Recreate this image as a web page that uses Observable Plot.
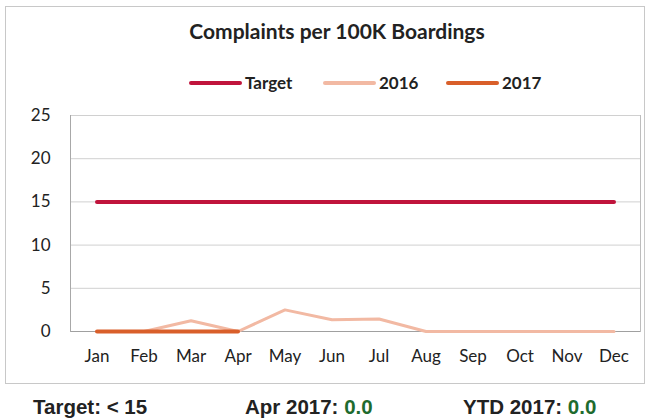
<!DOCTYPE html>
<html><head><meta charset="utf-8">
<script src="https://cdn.jsdelivr.net/npm/d3@7"></script>
<script src="https://cdn.jsdelivr.net/npm/@observablehq/plot@0.6"></script>
<style>
html,body{margin:0;padding:0;background:#fff;}
#wrap{position:relative;width:654px;height:420px;overflow:hidden;background:#fff;}
#box{position:absolute;left:5px;top:6px;width:640px;height:378px;border:1px solid #c8c8c8;box-sizing:border-box;}
#title{position:absolute;left:0;width:674px;top:18px;text-align:center;font:bold 21px Lato,"Open Sans",sans-serif;color:#222;}
#legend{position:absolute;top:72px;left:0;width:654px;font:bold 17px Lato,sans-serif;color:#222;}
.li{position:absolute;display:flex;align-items:center;}
.sw{display:inline-block;width:53px;height:4px;border-radius:2px;margin-right:3px;}
#chart{position:absolute;left:0;top:100px;}
#footer{position:absolute;top:395px;left:0;width:654px;font:bold 20.5px "Liberation Sans",Arial,sans-serif;color:#222;}
#footer span.f{position:absolute;white-space:nowrap;}
.g{color:#1e6b2e;}
</style></head>
<body><div id="wrap">
<div id="box"></div>
<div id="title">Complaints per 100K Boardings</div>
<div id="legend"></div>
<div id="chart"></div>
<div id="footer"></div>
</div>
<script>
const months = ["Jan","Feb","Mar","Apr","May","Jun","Jul","Aug","Sep","Oct","Nov","Dec"];
const target = [15,15,15,15,15,15,15,15,15,15,15,15];
const v2016 = [0,0,1.25,0,2.5,1.35,1.45,0,0,0,0,0];
const v2017 = [0,0,0,0];
const yTicks = [0,5,10,15,20,25];
const seriesNames = ["Target","2016","2017"];
const seriesColors = ["#c0143c","#f2b9a3","#d95f2a"];

const rows = (vals, s) => vals.map((v,i) => ({month: months[i], value: v, series: s}));

// legend
const legend = document.getElementById("legend");
const legX = [189, 323, 446];
seriesNames.forEach((n,i) => {
  const d = document.createElement("div");
  d.className = "li";
  d.style.left = legX[i] + "px";
  d.innerHTML = `<span class="sw" style="background:${seriesColors[i]}"></span>${n}`;
  legend.appendChild(d);
});

const chart = Plot.plot({
  width: 654, height: 268,
  marginTop: 15, marginBottom: 37, marginLeft: 70, marginRight: 14,
  style: {fontFamily: "Lato, sans-serif", fontSize: "17px", color: "#222", background: "transparent"},
  x: {type: "band", domain: months, padding: 0, tickSize: 0, tickPadding: 18, label: null},
  y: {domain: [0,25], ticks: yTicks, tickSize: 0, tickPadding: 20, label: null},
  marks: [
    Plot.gridY(yTicks, {stroke: "#d0d0d0", strokeOpacity: 1}),
    Plot.frame({stroke: "#bdbdbd", anchor: "right"}),
    Plot.ruleY([0], {stroke: "#a0a0a0"}),
    Plot.frame({stroke: "#a8a8a8", anchor: "left"}),
    Plot.line(rows(target,"Target"), {x: "month", y: "value", stroke: seriesColors[0], strokeWidth: 4, strokeLinecap: "round"}),
    Plot.line(rows(v2016,"2016"), {x: "month", y: "value", stroke: seriesColors[1], strokeWidth: 3, strokeLinecap: "round", strokeLinejoin: "round"}),
    Plot.line(rows(v2017,"2017"), {x: "month", y: "value", stroke: seriesColors[2], strokeWidth: 4, strokeLinecap: "round"})
  ]
});
document.getElementById("chart").appendChild(chart);

// footer
const footer = document.getElementById("footer");
const footItems = [
  {x: 33, html: "Target: &lt; 15"},
  {x: 245, html: "Apr 2017: <span class='g'>0.0</span>"},
  {x: 463, html: "YTD 2017: <span class='g'>0.0</span>"}
];
footItems.forEach(f => {
  const s = document.createElement("span");
  s.className = "f"; s.style.left = f.x + "px"; s.innerHTML = f.html;
  footer.appendChild(s);
});
</script>
</body></html>
